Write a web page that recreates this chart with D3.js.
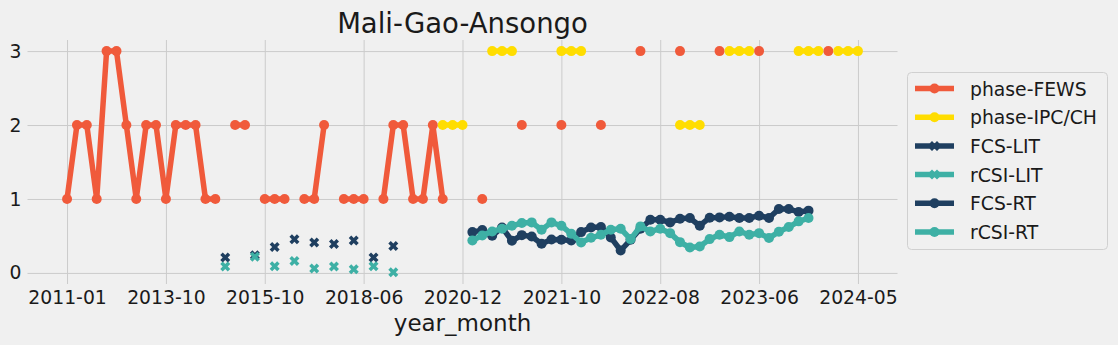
<!DOCTYPE html>
<html>
<head>
<meta charset="utf-8">
<script src="https://cdn.jsdelivr.net/npm/d3@7"></script>
<style>
  html, body { margin: 0; padding: 0; background: #f0f0f0; }
  svg { display: block; font-family: "DejaVu Sans", sans-serif; }
</style>
</head>
<body>
<svg id="chart" width="1118" height="345"></svg>
<script>
const categories = [
  "2011-01","2011-04","2011-07","2011-10","2012-01","2012-04","2012-07","2012-10","2013-01","2013-04",
  "2013-10","2014-01","2014-04","2014-07","2014-10","2015-01","2015-03","2015-04","2015-07","2015-09",
  "2015-10","2016-02","2016-06","2016-09","2016-10","2017-02","2017-06","2017-09","2017-10","2018-02",
  "2018-06","2018-09","2018-10","2019-02","2019-06","2019-10","2020-02","2020-06","2020-10","2020-11",
  "2020-12","2021-01","2021-02","2021-03","2021-04","2021-05","2021-06","2021-07","2021-08","2021-09",
  "2021-10","2021-11","2021-12","2022-01","2022-02","2022-03","2022-04","2022-05","2022-06","2022-07",
  "2022-08","2022-09","2022-10","2022-11","2022-12","2023-01","2023-02","2023-03","2023-04","2023-05",
  "2023-06","2023-07","2023-08","2023-09","2023-10","2023-11","2023-12","2024-02","2024-03","2024-04",
  "2024-05"
];
const tickLabels = ["2011-01","2013-10","2015-10","2018-06","2020-12","2021-10","2022-08","2023-06","2024-05"];
const yTicks = [0, 1, 2, 3];

// phase-FEWS (month, value)
const phaseFEWS = [
  ["2011-01",1],["2011-04",2],["2011-07",2],["2011-10",1],["2012-01",3],["2012-04",3],["2012-07",2],["2012-10",1],
  ["2013-01",2],["2013-04",2],["2013-10",1],["2014-01",2],["2014-04",2],["2014-07",2],["2014-10",1],["2015-01",1],
  ["2015-04",2],["2015-07",2],["2015-10",1],["2016-02",1],["2016-06",1],["2016-10",1],["2017-02",1],["2017-06",2],
  ["2017-10",1],["2018-02",1],["2018-06",1],["2018-10",1],["2019-02",2],["2019-06",2],["2019-10",1],["2020-02",1],
  ["2020-06",2],["2020-10",1],["2021-02",1],["2021-06",2],["2021-10",2],["2022-02",2],["2022-06",3],["2022-10",3],
  ["2023-02",3],["2023-06",3],["2024-02",3]
];
const phaseIPC = [
  ["2020-10",2],["2020-11",2],["2020-12",2],["2021-03",3],["2021-04",3],["2021-05",3],["2021-10",3],["2021-11",3],
  ["2021-12",3],["2022-10",2],["2022-11",2],["2022-12",2],["2023-03",3],["2023-04",3],["2023-05",3],["2023-10",3],
  ["2023-11",3],["2023-12",3],["2024-03",3],["2024-04",3],["2024-05",3]
];
const fcsLIT = [
  ["2015-03",0.21],["2015-09",0.24],["2016-02",0.35],["2016-09",0.455],["2017-02",0.41],["2017-09",0.39],
  ["2018-02",0.44],["2018-09",0.21],["2019-02",0.365]
];
const rcsiLIT = [
  ["2015-03",0.085],["2015-09",0.22],["2016-02",0.09],["2016-09",0.16],["2017-02",0.06],["2017-09",0.085],
  ["2018-02",0.05],["2018-09",0.09],["2019-02",0.01]
];
const rtMonths = categories.slice(41, 76);
const fcsRT = [0.552,0.579,0.502,0.615,0.434,0.511,0.493,0.394,0.452,0.448,0.439,0.552,0.615,0.620,0.480,0.303,0.448,0.597,
  0.719,0.719,0.683,0.733,0.742,0.638,0.747,0.751,0.760,0.742,0.742,0.774,0.742,0.864,0.864,0.824,0.842];
const rcsiRT = [0.439,0.507,0.561,0.597,0.638,0.674,0.683,0.584,0.683,0.638,0.529,0.412,0.475,0.516,0.584,0.597,0.457,0.629,
  0.561,0.597,0.538,0.416,0.344,0.357,0.457,0.516,0.484,0.561,0.516,0.538,0.471,0.557,0.620,0.697,0.742];

// ----- layout -----
const svg = d3.select("#chart");
const L = 27.5, R = 897.5, T = 40, B = 284;
const x = d3.scalePoint().domain(categories).range([L, R]).padding(4);
const y = d3.scaleLinear().domain([-0.15, 3.15]).range([B, T]);

const colors = {
  fews: "#f05a3b", ipc: "#ffdd00", navy: "#1f3f60", teal: "#3eb0a5"
};

function align(pairs) {
  const m = new Map(pairs);
  return categories.map(c => ({ c, v: m.has(c) ? m.get(c) : null }));
}
const rtFcs = align(rtMonths.map((c, i) => [c, fcsRT[i]]));
const rtRcsi = align(rtMonths.map((c, i) => [c, rcsiRT[i]]));

const gy = svg.append("g").attr("transform", `translate(${L},0)`)
  .call(d3.axisLeft(y).tickValues(yTicks).tickSize(-(R - L)).tickPadding(6).tickFormat(d3.format("d")));
const gx = svg.append("g").attr("transform", `translate(0,${B})`)
  .call(d3.axisBottom(x).tickValues(tickLabels).tickSize(-(B - T)).tickPadding(7));
[gx, gy].forEach(g => {
  g.select(".domain").remove();
  g.selectAll(".tick line").attr("stroke", "#cbcbcb").attr("stroke-width", 1);
  g.selectAll(".tick text").attr("fill", "#1a1a1a").style("font-size", "18.8px").style("font-family", "DejaVu Sans");
});

// filled 'X' marker like matplotlib
const xMarker = {
  draw(ctx, size) {
    const r = Math.sqrt(size) / 2, t = r * 0.5;
    const pts = [[-r + t, -r], [0, -t], [r - t, -r], [r, -r + t], [t, 0], [r, r - t], [r - t, r], [0, t], [-r + t, r], [-r, r - t], [-t, 0], [-r, -r + t]];
    ctx.moveTo(pts[0][0], pts[0][1]);
    for (let i = 1; i < pts.length; i++) ctx.lineTo(pts[i][0], pts[i][1]);
    ctx.closePath();
  }
};

const line = d3.line().defined(d => d.v != null).x(d => x(d.c)).y(d => y(d.v));

function drawSeries(data, color, marker) {
  const g = svg.append("g");
  g.append("path").datum(data).attr("d", line).attr("fill", "none")
    .attr("stroke", color).attr("stroke-width", 5.5).attr("stroke-linejoin", "round").attr("stroke-linecap", "butt");
  const pts = data.filter(d => d.v != null);
  if (marker === "o") {
    g.selectAll("circle").data(pts).join("circle")
      .attr("cx", d => x(d.c)).attr("cy", d => y(d.v)).attr("r", 5).attr("fill", color);
  } else {
    g.selectAll("path.m").data(pts).join("path").attr("class", "m")
      .attr("transform", d => `translate(${x(d.c)},${y(d.v)})`)
      .attr("d", d3.symbol().type(xMarker).size(100)).attr("fill", color);
  }
}

drawSeries(align(phaseFEWS), colors.fews, "o");
drawSeries(align(phaseIPC), colors.ipc, "o");
drawSeries(align(fcsLIT), colors.navy, "x");
drawSeries(align(rcsiLIT), colors.teal, "x");
drawSeries(rtFcs, colors.navy, "o");
drawSeries(rtRcsi, colors.teal, "o");

svg.append("text").attr("x", (L + R) / 2).attr("y", 33).attr("text-anchor", "middle")
  .style("font-size", "27.5px").attr("fill", "#1a1a1a").text("Mali-Gao-Ansongo");
svg.append("text").attr("x", (L + R) / 2).attr("y", 331).attr("text-anchor", "middle")
  .style("font-size", "23px").attr("fill", "#1a1a1a").text("year_month");

const legendItems = [
  { name: "phase-FEWS", color: colors.fews, marker: "o" },
  { name: "phase-IPC/CH", color: colors.ipc, marker: "o" },
  { name: "FCS-LIT", color: colors.navy, marker: "x" },
  { name: "rCSI-LIT", color: colors.teal, marker: "x" },
  { name: "FCS-RT", color: colors.navy, marker: "o" },
  { name: "rCSI-RT", color: colors.teal, marker: "o" }
];
const lg = svg.append("g");
lg.append("rect").attr("x", 907.5).attr("y", 72.5).attr("width", 200).attr("height", 177)
  .attr("rx", 4).attr("fill", "#f0f0f0").attr("stroke", "#d0d0d0").attr("stroke-width", 1);
legendItems.forEach((it, i) => {
  const cy = 88.5 + i * 28.7;
  const g = lg.append("g");
  g.append("line").attr("x1", 915).attr("x2", 954).attr("y1", cy).attr("y2", cy)
    .attr("stroke", it.color).attr("stroke-width", 5.5);
  if (it.marker === "o") {
    g.append("circle").attr("cx", 934.5).attr("cy", cy).attr("r", 5).attr("fill", it.color);
  } else {
    g.append("path").attr("transform", `translate(934.5,${cy})`)
      .attr("d", d3.symbol().type(xMarker).size(100)).attr("fill", it.color);
  }
  g.append("text").attr("x", 970).attr("y", cy + 7).style("font-size", "18.8px").attr("fill", "#1a1a1a").text(it.name);
});
</script>
</body>
</html>
